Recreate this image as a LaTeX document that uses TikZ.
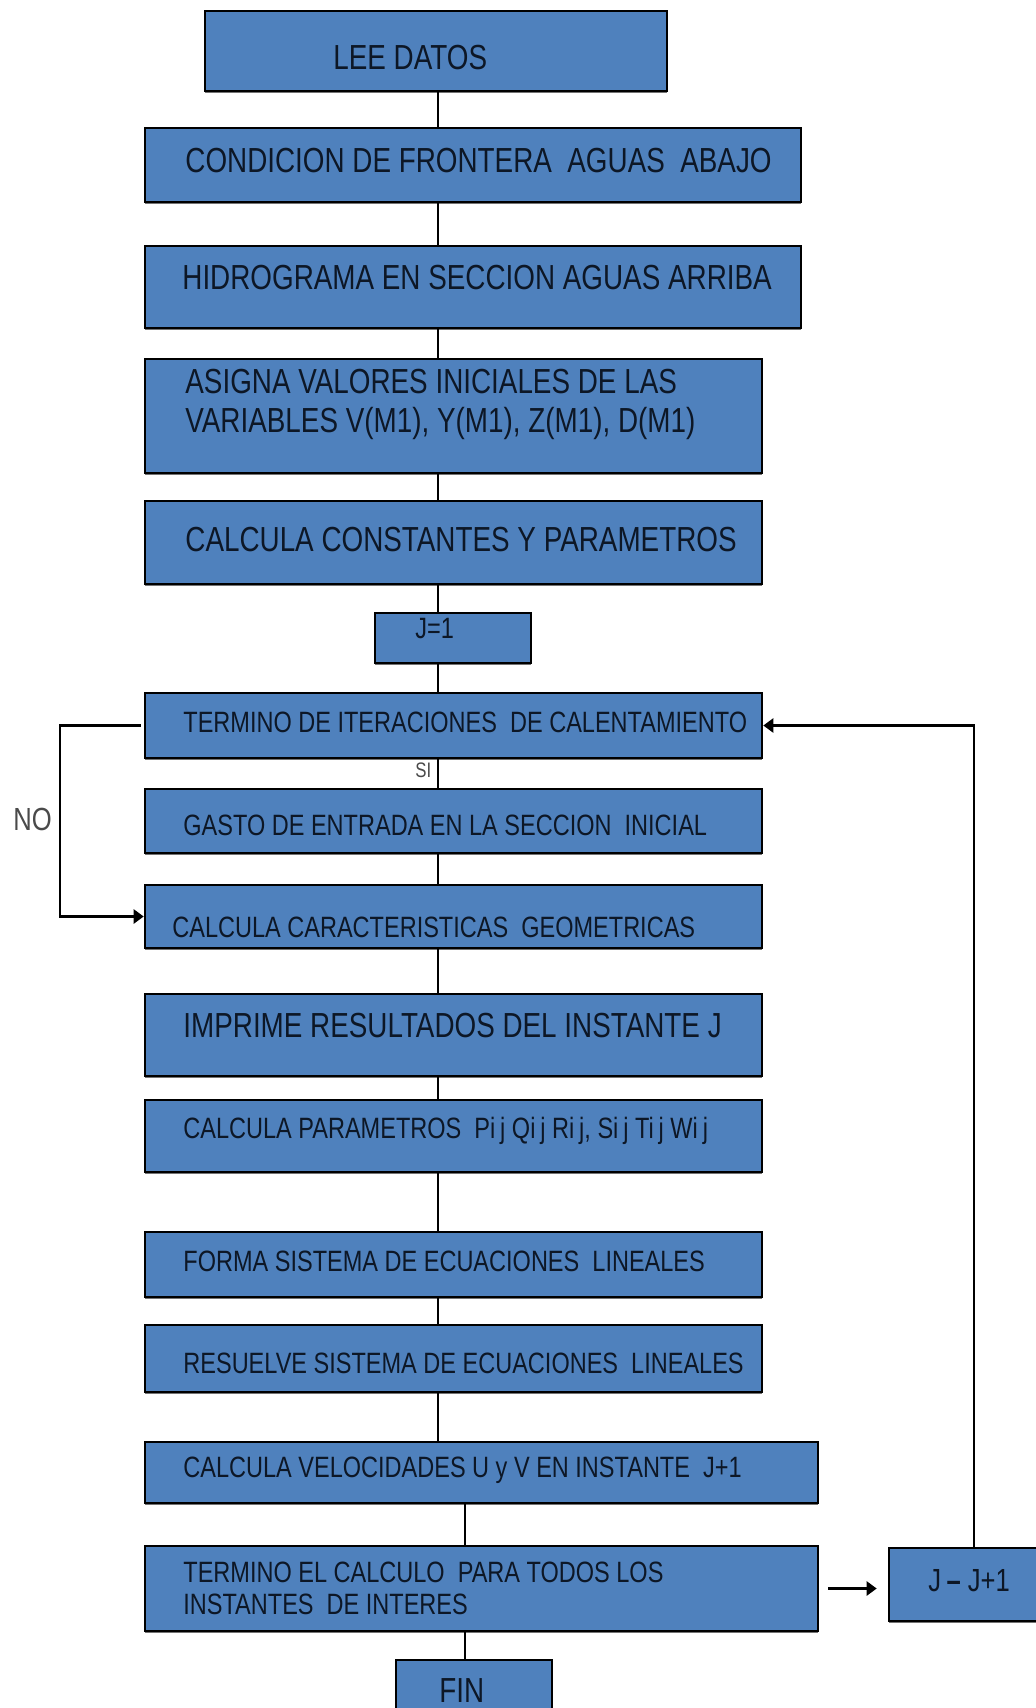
\documentclass[tikz,border=0pt]{standalone}
\usepackage{fontspec}
\setmainfont[FakeStretch=0.80]{Liberation Sans}
\usetikzlibrary{arrows.meta,shadows}

\definecolor{azulcaja}{HTML}{4F81BD}
\definecolor{tinta}{HTML}{0D1726}
\definecolor{gris}{HTML}{4A4A4A}

\tikzset{
  caja/.style={draw=black, line width=1.3pt, fill=azulcaja, inner sep=0pt,
    drop shadow={shadow xshift=0pt, shadow yshift=-1.2pt, fill=black!55, opacity=1}},
  texto/.style={anchor=base west, inner sep=0pt, text=tinta, align=left,
    font=\fontsize{14.7pt}{16pt}\selectfont},
  grande/.style={texto, font=\fontsize{17.4pt}{19.5pt}\selectfont},
  rotulo/.style={anchor=base west, inner sep=0pt, text=gris},
  linea/.style={line width=1.2pt},
  flecha/.style={linea, -{Triangle[length=5pt,width=7pt]}}
}

\begin{document}
\begin{tikzpicture}[x=0.5pt, y=-0.5pt]
  \useasboundingbox (0,0) rectangle (1035,1708);
  \coordinate (eje) at (438,0);

  % cajas del diagrama
  \node[caja, minimum width=231pt, minimum height=40pt] (lee) at (436,51) {};
  \node[grande] (tlee) at (333,69) {LEE DATOS};

  \node[caja, minimum width=328pt, minimum height=37pt] (frontera) at (473,165) {};
  \node[grande] (tfrontera) at (185,172) {CONDICION DE FRONTERA\ \ AGUAS\ \ ABAJO};

  \node[caja, minimum width=328pt, minimum height=41pt] (hidro) at (473,287) {};
  \node[grande] (thidro) at (182,289) {HIDROGRAMA EN SECCION AGUAS ARRIBA};

  \node[caja, minimum width=308.5pt, minimum height=57pt] (asigna) at (453.5,416) {};
  % base = ultima linea
  \node[grande] (tasigna) at (185,432) {ASIGNA VALORES INICIALES DE LAS\\VARIABLES V(M1), Y(M1),\ Z(M1), D(M1)};

  \node[caja, minimum width=308.5pt, minimum height=41.5pt] (constantes) at (453.5,542.5) {};
  \node[grande] (tconstantes) at (185,551) {CALCULA CONSTANTES Y PARAMETROS};

  \node[caja, minimum width=78pt, minimum height=25pt] (jinicio) at (453,638) {};
  \node[texto] (tjinicio) at (415,638) {J=1};

  \node[caja, minimum width=308.5pt, minimum height=32.5pt] (iteraciones) at (453.5,725.5) {};
  \node[texto] (titeraciones) at (183,732) {TERMINO\ DE ITERACIONES\ \ DE CALENTAMIENTO};

  \node[caja, minimum width=308.5pt, minimum height=32pt] (gasto) at (453.5,821) {};
  \node[texto] (tgasto) at (183,835) {GASTO DE ENTRADA EN LA SECCION\ \ INICIAL};

  \node[caja, minimum width=308.5pt, minimum height=31.5pt] (geometria) at (453.5,916.5) {};
  \node[texto] (tgeometria) at (172,937) {CALCULA\ CARACTERISTICAS\ \ GEOMETRICAS};

  \node[caja, minimum width=308.5pt, minimum height=41pt] (imprime) at (453.5,1035) {};
  \node[grande] (timprime) at (183,1037) {IMPRIME RESULTADOS DEL INSTANTE J};

  \node[caja, minimum width=308.5pt, minimum height=36pt] (parametros) at (453.5,1136) {};
  \node[texto] (tparametros) at (183,1138) {CALCULA PARAMETROS\ \ Pi\,j Qi\,j Ri\,j, Si\,j Ti\,j Wi\,j};

  \node[caja, minimum width=308.5pt, minimum height=32.5pt] (forma) at (453.5,1264.5) {};
  \node[texto] (tforma) at (183,1271) {FORMA SISTEMA DE ECUACIONES\ \ LINEALES};

  \node[caja, minimum width=308.5pt, minimum height=33.5pt] (resuelve) at (453.5,1358.5) {};
  \node[texto] (tresuelve) at (183,1373) {RESUELVE SISTEMA DE ECUACIONES\ \ LINEALES};

  \node[caja, minimum width=336.5pt, minimum height=30.5pt] (velocidad) at (481.5,1472.5) {};
  \node[texto] (tvelocidad) at (183,1477) {CALCULA VELOCIDADES U y V EN INSTANTE\ \ J+1};

  \node[caja, minimum width=336.5pt, minimum height=42.5pt] (termino) at (481.5,1588.5) {};
  \node[texto] (ttermino) at (183,1614) {TERMINO\ EL CALCULO\ \ PARA TODOS LOS\\INSTANTES\ \ DE INTERES};

  \node[caja, minimum width=85pt, minimum height=36.5pt] (incremento) at (974,1584.5) {};
  \node[texto, font=\fontsize{16pt}{18pt}\selectfont] (tincremento) at (928,1591) {J\,{\bfseries –}\ J+1};

  \node[caja, minimum width=78pt, minimum height=30pt] (fin) at (474,1690) {};
  \node[grande] (tfin) at (439,1702) {FIN};

  % conectores
  \foreach \a/\b in {lee/frontera, frontera/hidro, hidro/asigna, asigna/constantes,
                     constantes/jinicio, jinicio/iteraciones, iteraciones/gasto,
                     gasto/geometria, geometria/imprime, imprime/parametros,
                     parametros/forma, forma/resuelve, resuelve/velocidad}
    \draw[linea] (eje |- \a.south) -- (eje |- \b.north);
  \draw[linea] (465,0 |- velocidad.south) -- (465,0 |- termino.north);
  \draw[linea] (465,0 |- termino.south) -- (465,0 |- fin.north);

  \node[rotulo, font=\fontsize{10.5pt}{12pt}\selectfont] (si) at (415,777) {SI};
  \node[rotulo, font=\fontsize{16pt}{18pt}\selectfont] (no) at (13,830) {NO};

  \draw[flecha] ([xshift=-1.5pt]iteraciones.west) -- ++(-81,0) |- (geometria.west);
  \draw[flecha] (incremento.north) |- (iteraciones.east);
  \draw[flecha, shorten <=4.5pt, shorten >=5.5pt] (termino.east) -- (termino.east -| incremento.west);
\end{tikzpicture}
\end{document}
